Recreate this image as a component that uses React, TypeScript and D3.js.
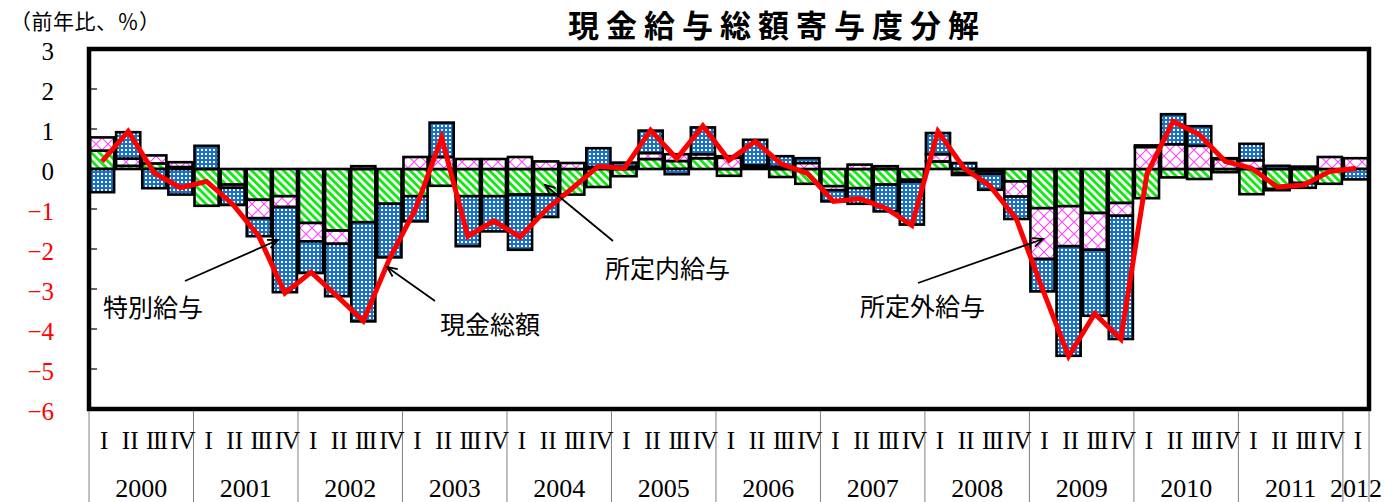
import React from "react";
import * as d3 from "d3";

// Quarterly contributions to the year-on-year change in total cash earnings (%pt)
const yearLabels = ["2000", "2001", "2002", "2003", "2004", "2005", "2006", "2007", "2008", "2009", "2010", "2011", "2012"];
const quarterLabels = ["I", "II", "III", "IV"];

// 所定内給与 (scheduled earnings)
const scheduled = [
  0.46, 0.08, 0.14, 0.05,
  -0.92, -0.39, -0.77, -0.68,
  -1.35, -1.54, -1.33, -0.87,
  -0.68, -0.42, -0.68, -0.68,
  -0.64, -0.64, -0.64, -0.45,
  -0.18, 0.25, 0.2, 0.27,
  -0.17, 0.04, -0.2, -0.37,
  -0.43, -0.48, -0.39, -0.27,
  0.19, -0.1, -0.05, -0.31,
  -0.98, -0.93, -1.1, -0.85,
  -0.73, -0.21, -0.25, -0.08,
  -0.63, -0.5, -0.35, -0.37,
  0.0,
];
// 所定外給与 (non-scheduled earnings)
const nonScheduled = [
  0.33, 0.18, 0.2, 0.12,
  0.0, -0.08, -0.46, -0.27,
  -0.46, -0.33, 0.07, 0.0,
  0.3, 0.3, 0.25, 0.25,
  0.3, 0.19, 0.15, 0.05,
  0.06, 0.15, 0.17, 0.1,
  0.28, 0.05, 0.06, 0.15,
  -0.1, 0.11, 0.07, -0.05,
  0.18, -0.05, -0.07, -0.38,
  -1.27, -1.0, -0.92, -0.32,
  0.55, 0.62, 0.58, 0.25,
  0.22, -0.03, 0.06, 0.3,
  0.27,
];
// 特別給与 (special earnings / bonuses)
const special = [
  -0.58, 0.66, -0.48, -0.64,
  0.58, -0.43, -0.45, -2.13,
  -0.79, -1.31, -2.48, -1.34,
  -0.63, 0.86, -1.25, -0.88,
  -1.38, -0.56, 0.0, 0.47,
  0.1, 0.56, -0.13, 0.67,
  0.04, 0.64, 0.26, 0.12,
  -0.28, -0.39, -0.67, -1.07,
  0.53, 0.15, -0.4, -0.56,
  -0.81, -2.74, -1.65, -3.08,
  0.04, 0.75, 0.49, 0.02,
  0.41, 0.08, -0.12, 0.0,
  -0.26,
];
// 現金総額 (total cash earnings)
const totalCash = [
  0.19, 0.94, -0.1, -0.47,
  -0.31, -0.88, -1.68, -3.1,
  -2.58, -3.18, -3.8, -2.25,
  -1.0, 0.78, -1.68, -1.3,
  -1.7, -1.02, -0.48, 0.07,
  0.02, 0.97, 0.26, 1.08,
  0.22, 0.69, 0.13, -0.11,
  -0.81, -0.74, -0.98, -1.41,
  0.94, 0.02, -0.43, -1.25,
  -3.0, -4.68, -3.62, -4.25,
  -0.12, 1.19, 0.86, 0.19,
  0.02, -0.45, -0.4, -0.06,
  0.02,
];
const yTickValues = [3, 2, 1, 0, -1, -2, -3, -4, -5, -6];

const W = 1385;
const H = 502;
const plot = { left: 89, right: 1369, top: 49, bottom: 409 };

const JP = "'Noto Sans CJK JP', 'Noto Sans', sans-serif";
const SERIF = "'Liberation Serif', 'DejaVu Serif', serif";

type Row = { idx: number; scheduled: number; nonScheduled: number; special: number };

export default function App() {
  const n = totalCash.length;
  const idx = d3.range(n);

  const x = d3.scaleBand<number>().domain(idx).range([plot.left, plot.right]).padding(0);
  const bw = x.bandwidth();
  const y = d3.scaleLinear().domain([-6, 3]).range([plot.bottom, plot.top]);

  const rows: Row[] = idx.map((i) => ({
    idx: i,
    scheduled: scheduled[i],
    nonScheduled: nonScheduled[i],
    special: special[i],
  }));
  const keys = ["scheduled", "nonScheduled", "special"];
  const stacked = d3.stack<Row>().keys(keys).offset(d3.stackOffsetDiverging)(rows);
  const fills: Record<string, string> = {
    scheduled: "url(#pat-green)",
    nonScheduled: "url(#pat-magenta)",
    special: "url(#pat-blue)",
  };

  const line = d3
    .line<number>()
    .x((_, i) => (x(i) as number) + bw / 2)
    .y((v) => y(v));

  // period labels for the table under the plot
  const periods = idx.map((i) => ({ q: quarterLabels[i % 4], year: Math.floor(i / 4) }));
  const yearGroups = yearLabels.map((label, k) => {
    const members = periods.map((p, i) => (p.year === k ? i : -1)).filter((i) => i >= 0);
    const first = members[0];
    const last = members[members.length - 1];
    return {
      label,
      start: x(first) as number,
      end: (x(last) as number) + bw,
    };
  });

  const annotations = [
    { text: "特別給与", tx: 103, ty: 306, from: [185, 281], to: [278, 240] },
    { text: "現金総額", tx: 440, ty: 323, from: [435, 301], to: [387, 267] },
    { text: "所定内給与", tx: 605, ty: 267, from: [613, 241], to: [545, 185] },
    { text: "所定外給与", tx: 860, ty: 305, from: [918, 283], to: [1043, 239] },
  ];

  const arrowHead = (from: number[], to: number[]) => {
    const ang = Math.atan2(to[1] - from[1], to[0] - from[0]);
    const len = 11;
    const spread = 0.42;
    const p1 = [to[0] - len * Math.cos(ang - spread), to[1] - len * Math.sin(ang - spread)];
    const p2 = [to[0] - len * Math.cos(ang + spread), to[1] - len * Math.sin(ang + spread)];
    return `M${p1[0]},${p1[1]}L${to[0]},${to[1]}L${p2[0]},${p2[1]}`;
  };

  return (
    <svg
      width={W}
      height={H}
      viewBox={`0 0 ${W} ${H}`}
      style={{ position: "absolute", left: 0, top: 0, background: "#fff" }}
    >
      <defs>
        <pattern id="pat-green" patternUnits="userSpaceOnUse" width={5.6} height={5.6} patternTransform="rotate(-45)">
          <rect width={5.6} height={5.6} fill="#ffffff" />
          <rect width={2.9} height={5.6} fill="#14e814" />
        </pattern>
        <pattern id="pat-magenta" patternUnits="userSpaceOnUse" width={12} height={12}>
          <rect width={12} height={12} fill="#ffffff" />
          <path d="M0,0L12,12M12,0L0,12" stroke="#ff44ff" strokeWidth={1.1} />
        </pattern>
        <pattern id="pat-blue" patternUnits="userSpaceOnUse" width={4} height={4}>
          <rect width={4} height={4} fill="#1a72c4" />
          <rect x={1} y={1} width={2} height={2} fill="#ffffff" />
        </pattern>
      </defs>

      <rect x={0} y={0} width={W} height={H} fill="#ffffff" />

      {/* title and unit */}
      <text
        x={777}
        y={23}
        textAnchor="middle"
        dominantBaseline="central"
        fontFamily={JP}
        fontSize={31}
        fontWeight={700}
        letterSpacing={7}
        fill="#000"
      >
        現金給与総額寄与度分解
      </text>
      <text x={10} y={20} dominantBaseline="central" fontFamily={JP} fontSize={21} letterSpacing={0.5} fill="#000">
        （前年比、％）
      </text>

      {/* stacked contribution bars */}
      <g>
        {stacked.map((s) =>
          s.map((d, i) => {
            const lo = Math.min(d[0], d[1]);
            const hi = Math.max(d[0], d[1]);
            if (hi - lo < 1e-9) return null;
            return (
              <rect
                key={`${s.key}-${i}`}
                x={(x(i) as number) + 1}
                y={y(hi)}
                width={bw - 2}
                height={y(lo) - y(hi)}
                fill={fills[s.key]}
                stroke="#000"
                strokeWidth={2.6}
              />
            );
          })
        )}
      </g>

      {/* total cash earnings */}
      <path d={line(totalCash) || ""} fill="none" stroke="#ff0000" strokeWidth={5} strokeLinejoin="miter" />

      {/* annotations */}
      {annotations.map((a) => (
        <g key={a.text}>
          <line x1={a.from[0]} y1={a.from[1]} x2={a.to[0]} y2={a.to[1]} stroke="#000" strokeWidth={1.8} />
          <path d={arrowHead(a.from, a.to)} fill="none" stroke="#000" strokeWidth={1.8} />
          <text x={a.tx} y={a.ty} dominantBaseline="central" fontFamily={JP} fontSize={25} fill="#000">
            {a.text}
          </text>
        </g>
      ))}

      {/* y-axis ticks and labels */}
      {yTickValues.map((v) => (
        <g key={v}>
          <line x1={plot.left} x2={plot.left + 8} y1={y(v)} y2={y(v)} stroke="#000" strokeWidth={1.2} />
          <text
            x={54}
            y={y(v) + 2}
            textAnchor="end"
            dominantBaseline="central"
            fontFamily={SERIF}
            fontSize={25}
            fill={v < 0 ? "#ff0000" : "#000"}
          >
            {v < 0 ? `−${Math.abs(v)}` : `${v}`}
          </text>
        </g>
      ))}

      {/* plot frame */}
      <rect
        x={plot.left}
        y={plot.top}
        width={plot.right - plot.left}
        height={plot.bottom - plot.top}
        fill="none"
        stroke="#000"
        strokeWidth={4.5}
      />

      {/* period table */}
      {yearGroups.map((g) => (
        <g key={g.label}>
          <line x1={g.start} x2={g.start} y1={plot.bottom + 2} y2={H} stroke="#808080" strokeWidth={1} />
          <text
            x={(g.start + g.end) / 2}
            y={488}
            textAnchor="middle"
            dominantBaseline="central"
            fontFamily={SERIF}
            fontSize={26}
            fill="#000"
          >
            {g.label}
          </text>
        </g>
      ))}
      <line x1={plot.right} x2={plot.right} y1={plot.bottom + 2} y2={H} stroke="#808080" strokeWidth={1} />
      {periods.map((p, i) => (
        <text
          key={`q-${i}`}
          x={(x(i) as number) + bw / 2 + 2}
          y={440}
          textAnchor="middle"
          dominantBaseline="central"
          fontFamily={SERIF}
          fontSize={25}
          letterSpacing={p.q === "III" ? -1.5 : p.q === "IV" ? -1 : 0}
          fill="#000"
        >
          {p.q}
        </text>
      ))}
    </svg>
  );
}
